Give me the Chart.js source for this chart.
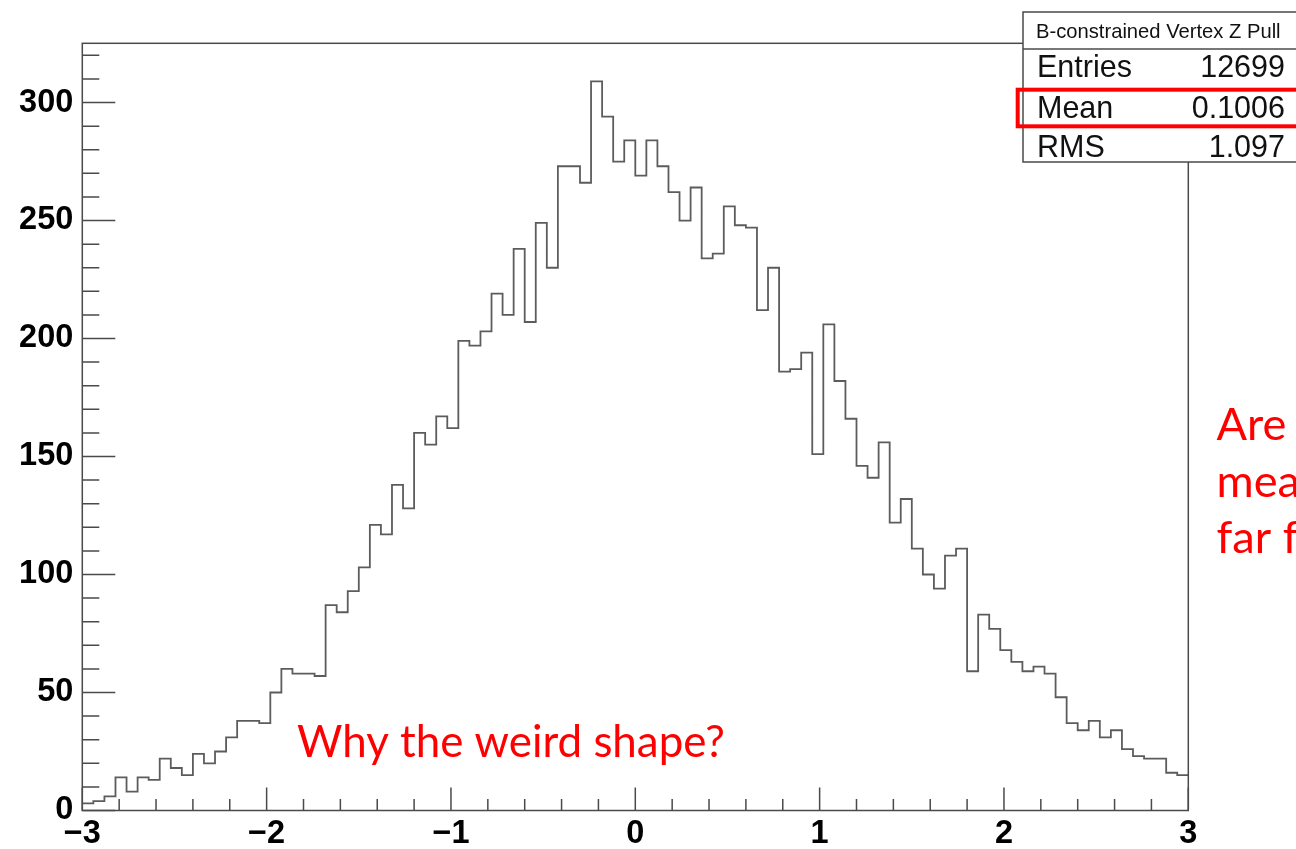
<!DOCTYPE html>
<html>
<head>
<meta charset="utf-8">
<script src="https://cdn.jsdelivr.net/npm/chart.js@4.4.1/dist/chart.umd.min.js"></script>
<style>
  html, body { margin: 0; padding: 0; background: #ffffff; }
  #wrap { width: 1296px; height: 849px; position: relative; }
  canvas { display: block; }
</style>
</head>
<body>
<div id="wrap"><canvas id="c" width="1296" height="849"></canvas></div>
<script>
// ---- data ----
const histTitle = 'B-constrained Vertex Z Pull';
const xMin = -3;
const xMax = 3;
const yMax = 325.1;
const counts = [
  3, 4, 6, 14, 8, 14, 13, 22, 18, 15, 24, 20, 25, 31, 38, 38, 37, 50,
  60, 58, 58, 57, 87, 84, 93, 103, 121, 117, 138, 128, 160, 155, 167, 162,
  199, 197, 203, 219, 210, 238, 207, 249, 230, 273, 273, 266, 309, 294, 275, 284, 269, 284,
  273, 262, 250, 264, 234, 236, 256, 248, 247, 212, 230, 186, 187, 194, 151, 206,
  182, 166, 146, 141, 156, 122, 132, 111, 100, 94, 108, 111, 59, 83, 77,
  68, 63, 59, 61, 58, 48, 37, 34, 38, 31, 34, 26, 23, 22, 22, 16, 15
];
const xTickValues = [-3, -2, -1, 0, 1, 2, 3];
const xTickLabels = ['\u22123', '\u22122', '\u22121', '0', '1', '2', '3'];
const yTickValues = [0, 50, 100, 150, 200, 250, 300];
const yTickLabels = ['0', '50', '100', '150', '200', '250', '300'];
const statsLabels = ['Entries', 'Mean', 'RMS'];
const statsValues = ['12699', '0.1006', '1.097'];
const noteBottom = 'Why the weird shape?';
const noteRight = ['Are the', 'means', 'far from 0?'];

// ---- build outline points (each bin: left edge and right edge at its count) ----
const nBins = counts.length;
const binW = (xMax - xMin) / nBins;
const outline = [];
counts.forEach((c, i) => {
  outline.push({ x: xMin + i * binW, y: c });
  outline.push({ x: xMin + (i + 1) * binW, y: c });
});

const FRAME = '#4a4a4a';

const rootAxes = {
  id: 'rootAxes',
  afterDatasetsDraw(chart) {
    const { ctx, chartArea: a, scales: { x, y } } = chart;
    ctx.save();
    ctx.strokeStyle = FRAME;
    ctx.lineWidth = 1.5;
    ctx.beginPath();
    for (let k = 0; k <= 30; k++) {
      const v = xMin + k * 0.2;
      const px = x.getPixelForValue(v);
      const major = k % 5 === 0;
      const len = major ? 23 : 11.5;
      ctx.moveTo(px, a.bottom);
      ctx.lineTo(px, a.bottom - len);
    }
    for (let v = 0; v <= yMax; v += 10) {
      const py = y.getPixelForValue(v);
      const major = v % 50 === 0;
      const len = major ? 33 : 17;
      ctx.moveTo(a.left, py);
      ctx.lineTo(a.left + len, py);
    }
    ctx.stroke();
    ctx.strokeRect(a.left, a.top, a.right - a.left, a.bottom - a.top);
    ctx.restore();
  },
  afterDraw(chart) {
    const { ctx } = chart;
    ctx.save();
    // stats box
    const bx = 1023, by = 12, bw = 300, bh = 150;
    ctx.fillStyle = '#ffffff';
    ctx.fillRect(bx, by, bw, bh);
    ctx.strokeStyle = FRAME;
    ctx.lineWidth = 1.5;
    ctx.strokeRect(bx, by, bw, bh);
    ctx.beginPath();
    ctx.moveTo(bx, 49); ctx.lineTo(bx + bw, 49);
    ctx.stroke();
    ctx.fillStyle = '#111111';
    ctx.textBaseline = 'alphabetic';
    ctx.font = '20.2px "Liberation Sans", Arial, sans-serif';
    ctx.textAlign = 'left';
    ctx.fillText(histTitle, 1036, 37.5);
    ctx.font = '30.5px "Liberation Sans", Arial, sans-serif';
    const rowBase = [77, 117.5, 156.5];
    statsLabels.forEach((s, i) => {
      ctx.textAlign = 'left';
      ctx.fillText(s, 1037, rowBase[i]);
      ctx.textAlign = 'right';
      ctx.fillText(statsValues[i], 1285, rowBase[i]);
    });
    // red highlight rectangle
    ctx.strokeStyle = '#ff0000';
    ctx.lineWidth = 4;
    ctx.strokeRect(1017.7, 89.7, 320, 36.6);
    // red notes
    ctx.fillStyle = '#ff0000';
    ctx.textAlign = 'left';
    let fs = 44;
    ctx.font = fs + 'px Lato, "Open Sans", sans-serif';
    const w = ctx.measureText(noteBottom).width;
    fs = fs * 428 / w;
    ctx.font = fs.toFixed(2) + 'px Lato, "Open Sans", sans-serif';
    ctx.fillText(noteBottom, 297, 756.5);
    ctx.font = (fs * 1.03).toFixed(2) + 'px Lato, "Open Sans", sans-serif';
    const rb = [440, 496.7, 553.3];
    noteRight.forEach((s, i) => ctx.fillText(s, 1216.5, rb[i]));
    ctx.restore();
  }
};

new Chart(document.getElementById('c'), {
  type: 'line',
  data: {
    datasets: [{
      label: histTitle,
      data: outline,
      borderColor: '#5c5c5c',
      borderWidth: 1.8,
      pointRadius: 0,
      tension: 0,
      fill: false
    }]
  },
  options: {
    responsive: false,
    animation: false,
    devicePixelRatio: 1,
    layout: { padding: { left: 0, top: 43.3, right: 107.7, bottom: 0 } },
    plugins: { legend: { display: false }, tooltip: { enabled: false }, title: { display: false } },
    scales: {
      x: {
        type: 'linear',
        min: xMin,
        max: xMax,
        grid: { display: false, drawTicks: false },
        border: { display: false },
        afterBuildTicks(s) { s.ticks = xTickValues.map(v => ({ value: v })); },
        afterFit(s) { s.height = 38.5; },
        ticks: {
          autoSkip: false,
          maxRotation: 0,
          padding: 4,
          color: '#000000',
          font: { family: '"Liberation Sans", Arial, sans-serif', weight: 'bold', size: 32.5 },
          callback: (v) => xTickLabels[xTickValues.indexOf(v)]
        }
      },
      y: {
        type: 'linear',
        min: 0,
        max: yMax,
        grid: { display: false, drawTicks: false },
        border: { display: false },
        afterBuildTicks(s) { s.ticks = yTickValues.map(v => ({ value: v })); },
        afterFit(s) { s.width = 82.3; },
        ticks: {
          autoSkip: false,
          padding: 9,
          color: '#000000',
          font: { family: '"Liberation Sans", Arial, sans-serif', weight: 'bold', size: 32.5 },
          callback: (v) => yTickLabels[yTickValues.indexOf(v)]
        }
      }
    }
  },
  plugins: [rootAxes]
});
</script>
</body>
</html>
